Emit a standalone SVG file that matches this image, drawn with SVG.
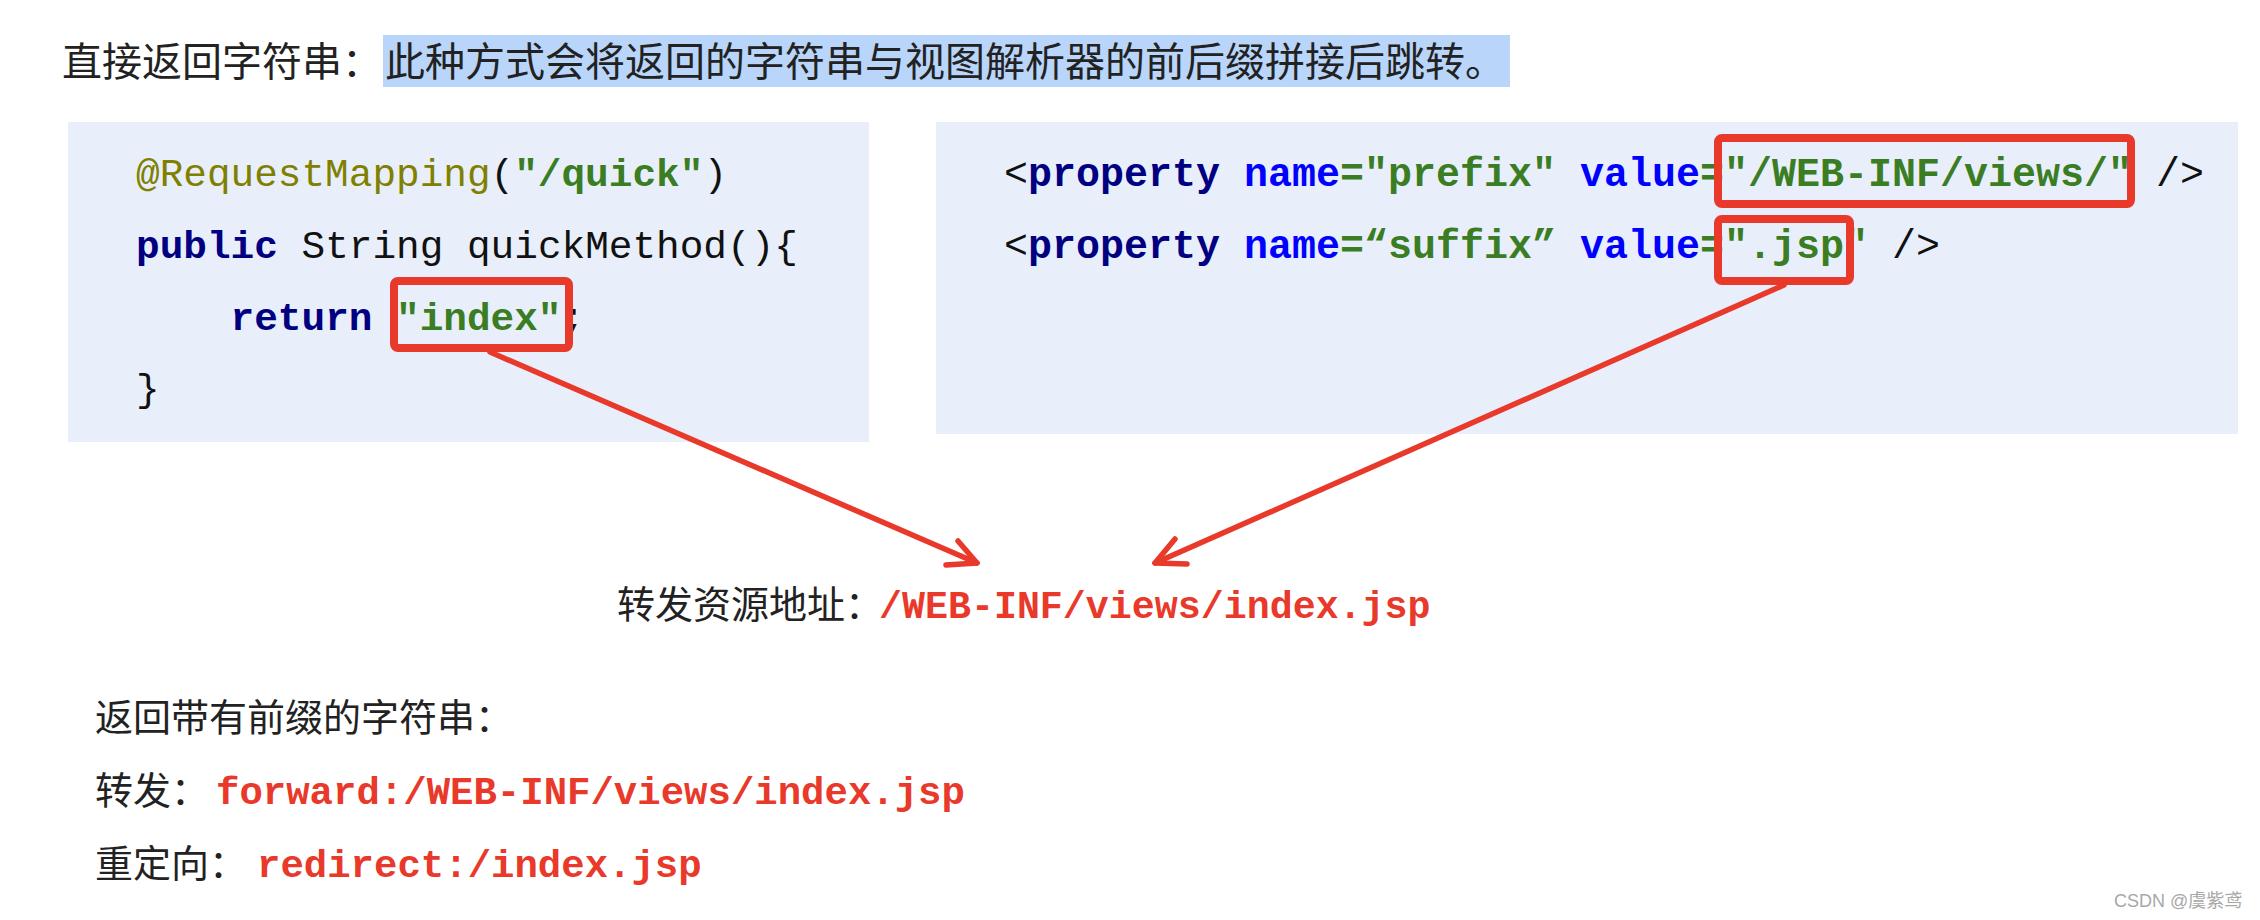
<svg xmlns="http://www.w3.org/2000/svg" width="2260" height="920" viewBox="0 0 2260 920">
<style>
.cn{font-family:"Noto Sans CJK SC","Noto Sans",sans-serif;fill:#222;}
.code{font-family:"Liberation Mono","Courier New",monospace;}
.b{font-weight:bold;}
.ann{fill:#808000;}
.kw{fill:#000080;font-weight:bold;}
.at{fill:#0000ff;font-weight:bold;}
.str{fill:#3b7d23;font-weight:bold;}
.pl{fill:#111;}
.red{fill:#e8392b;font-weight:bold;}
.box{fill:#e8effb;}
.hl{fill:none;stroke:#e8392b;stroke-width:8;}
.con{fill:none;stroke:#e8392b;stroke-width:5.5;stroke-linecap:round;stroke-linejoin:round;}
</style>
<rect width="2260" height="920" fill="#ffffff"/>
<g id="title">
<rect x="383" y="35" width="1127" height="52" fill="#b9d5fa"/>
<text class="cn" x="62" y="76" font-size="40">直接返回字符串：</text>
<text class="cn" x="385" y="76" font-size="40">此种方式会将返回的字符串与视图解析器的前后缀拼接后跳转。</text>
</g>
<g id="controller-code">
<rect class="box" x="68" y="122" width="801" height="320"/>
<g class="code" font-size="39.4">
<text x="136" y="186" class="ann">@RequestMapping</text>
<text x="490.6" y="186" class="pl">(</text>
<text x="514.2" y="186" class="str">"/quick"</text>
<text x="703.4" y="186" class="pl">)</text>
<text x="136" y="258" class="kw">public</text>
<text x="301.5" y="258" class="pl">String quickMethod(){</text>
<text x="230.6" y="330" class="kw">return</text>
<text x="396" y="330" class="str">"index"</text>
<text x="561.5" y="330" class="pl">;</text>
<text x="136" y="401" class="pl">}</text>
</g>
<rect class="hl" x="394" y="281" width="175" height="67" rx="4"/>
</g>
<g id="resolver-config">
<rect class="box" x="936" y="122" width="1302" height="312"/>
<g class="code" font-size="40">
<text x="1004" y="186" class="pl">&lt;</text>
<text x="1028" y="186" class="kw">property</text>
<text x="1244" y="186" class="at">name</text>
<text x="1340" y="186" class="str">="prefix"</text>
<text x="1580" y="186" class="at">value</text>
<text x="1700" y="186" class="str">="/WEB-INF/views/"</text>
<text x="2156" y="186" class="pl">/&gt;</text>
<text x="1004" y="258" class="pl">&lt;</text>
<text x="1028" y="258" class="kw">property</text>
<text x="1244" y="258" class="at">name</text>
<text x="1340" y="258" class="str">=“suffix”</text>
<text x="1580" y="258" class="at">value</text>
<text x="1700" y="258" class="str">=".jsp"</text>
<text x="1892" y="258" class="pl">/&gt;</text>
</g>
<rect class="hl" x="1718" y="138" width="413" height="66" rx="4"/>
<rect class="hl" x="1718" y="219" width="132" height="62" rx="4"/>
</g>
<g id="connectors">
<line class="con" x1="490" y1="352" x2="977" y2="563"/>
<polyline class="con" points="958,541 977,563 946,565"/>
<line class="con" x1="1784" y1="285" x2="1155" y2="563"/>
<polyline class="con" points="1175,539 1155,563 1187,564"/>
</g>
<g id="result">
<text class="cn" x="617" y="618" font-size="38">转发资源地址：</text>
<text class="code red" x="879" y="618" font-size="38.3">/WEB-INF/views/index.jsp</text>
</g>
<g id="prefix-notes">
<text class="cn" x="95" y="731" font-size="38">返回带有前缀的字符串：</text>
<text class="cn" x="95" y="804" font-size="38">转发：</text>
<text class="code red" x="216" y="804" font-size="39">forward:/WEB-INF/views/index.jsp</text>
<text class="cn" x="95" y="877" font-size="38">重定向：</text>
<text class="code red" x="257" y="877" font-size="39">redirect:/index.jsp</text>
</g>
<text x="2114" y="907" font-family="Liberation Sans, Arial, 'Noto Sans CJK SC', sans-serif" font-size="18" fill="#a8a8a8">CSDN @虞紫鸢</text>
</svg>
